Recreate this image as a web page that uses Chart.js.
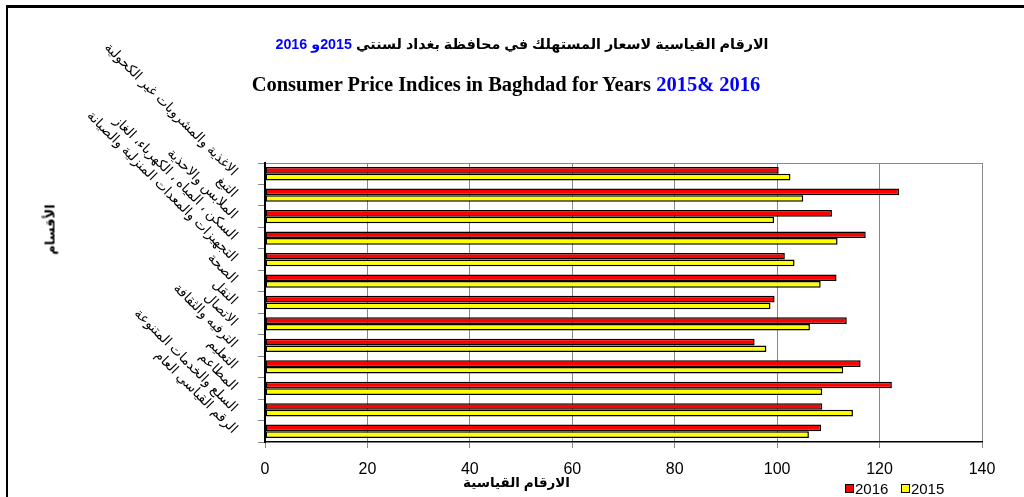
<!DOCTYPE html>
<html>
<head>
<meta charset="utf-8">
<script src="https://cdn.jsdelivr.net/npm/chart.js@4.4.0/dist/chart.umd.min.js"></script>
<style>
    body { margin: 0; background: #fff; }
    #wrap { position: relative; width: 1024px; height: 497px; overflow: hidden; }
    #frame { position: absolute; left: 6px; top: 5px; width: 1100px; height: 600px; border-left: 2px solid #000; border-top: 3px solid #000; }
    canvas { position: absolute; left: 0; top: 0; }
    .t { position: absolute; white-space: nowrap; color: #000; }
    .blue { color: #0000ff; }
    #titreAr { top: 36px; left: 0; width: 1044px; text-align: center; font: bold 14.3px Arial, "DejaVu Sans", sans-serif; direction: rtl; }
    #titreEn { top: 73px; left: 0; width: 1012px; text-align: center; font: bold 20.5px "Liberation Serif", "Times New Roman", serif; }
    #titreX { top: 474px; left: 470px; width: 100px; text-align: center; font: bold 13.5px Arial, "DejaVu Sans", sans-serif; direction: rtl; }
    #titreY { top: 222px; left: 20px; width: 60px; text-align: center; font: bold 13px Arial, "DejaVu Sans", sans-serif; direction: rtl; transform: rotate(-90deg); }
    #legenda { top: 480px; left: 845px; font: 15px Arial, "Liberation Sans", sans-serif; }
    .box { display: inline-block; width: 7px; height: 7px; border: 1px solid #000; margin-right: 1px; vertical-align: 1px; }
</style>
</head>
<body>
<div id="wrap">
    <div id="frame"></div>
    <canvas id="myChart" width="1024" height="497"></canvas>
    <div class="t" id="titreAr">الارقام القياسية لاسعار المستهلك في محافظة بغداد لسنتي  <span class="blue">2015و 2016</span></div>
    <div class="t" id="titreEn">Consumer Price Indices in Baghdad for Years <span class="blue">2015&amp; 2016</span></div>
    <div class="t" id="titreX">الارقام القياسية</div>
    <div class="t" id="titreY">الأقسام</div>
    <div class="t" id="legenda"><span class="box" style="background:#ff0000"></span>2016&nbsp;&nbsp;&nbsp;<span class="box" style="background:#ffff00"></span>2015</div>
</div>
<script>
const categorias = [
    "الاغذية والمشروبات غير الكحولية",
    "التبغ",
    "الملابس والاحذية",
    "السكن ، المياه ، الكهرباء، الغاز",
    "التجهيزات والمعدات المنزلية والصيانة",
    "الصحة",
    "النقل",
    "الاتصال",
    "الترفيه والثقافة",
    "التعليم",
    "المطاعم",
    "السلع والخدمات المتنوعة",
    "الرقم القياسي العام"
]
const valores2016 = [100.3, 123.8, 110.7, 117.3, 101.5, 111.6, 99.5, 113.6, 95.6, 116.3, 122.4, 108.8, 108.6]
const valores2015 = [102.6, 105.1, 99.4, 111.8, 103.4, 108.5, 98.7, 106.4, 97.9, 112.9, 108.8, 114.8, 106.2]
const ticksX = [0, 20, 40, 60, 80, 100, 120, 140]

let vermelho = "#ff0000"
let amarelo = "#ffff00"
let cinza = "#888888"

const ctx = document.getElementById("myChart").getContext("2d")
let myChart = new Chart(ctx, {
    type: "bar",
    data: {
        labels: categorias,
        datasets: [
            {
                label: "2016",
                data: valores2016,
                backgroundColor: vermelho,
                borderColor: "#000",
                borderWidth: 1.5,
                borderSkipped: false,
            },
            {
                label: "2015",
                data: valores2015,
                backgroundColor: amarelo,
                borderColor: "#000",
                borderWidth: 1.5,
                borderSkipped: false,
            },
        ],
    },
    options: {
        indexAxis: "y",
        responsive: false,
        animation: false,
        devicePixelRatio: 1,
        categoryPercentage: 0.62,
        barPercentage: 1,
        layout: { padding: { top: 163, right: 42, left: 0, bottom: 0 } },
        plugins: {
            legend: { display: false },
            title: { display: false },
            tooltip: { enabled: false },
        },
        scales: {
            x: {
                min: 0,
                max: 140,
                afterBuildTicks: function (scale) {
                    scale.ticks = ticksX.map(function (v) { return { value: v } })
                },
                afterFit: function (scale) {
                    scale.height = 55
                },
                grid: {
                    color: cinza,
                    tickColor: cinza,
                    tickLength: 6,
                },
                border: { color: "#000", width: 1.5 },
                ticks: {
                    color: "#000",
                    padding: 12,
                    maxRotation: 0,
                    font: { family: "Arial, 'Liberation Sans', sans-serif", size: 16 },
                },
            },
            y: {
                afterFit: function (scale) {
                    scale.width = 265
                },
                grid: {
                    drawOnChartArea: true,
                    tickLength: 7,
                    tickColor: cinza,
                    color: function (c) {
                        return c.index === 0 ? cinza : "rgba(0,0,0,0)"
                    },
                },
                border: { color: "#000", width: 2 },
                ticks: {
                    color: "#000",
                    padding: 23,
                    minRotation: -45,
                    maxRotation: -45,
                    autoSkip: false,
                    font: { family: "Arial, 'DejaVu Sans', sans-serif", size: 13.5 },
                },
            },
        },
    },
})
</script>
</body>
</html>
